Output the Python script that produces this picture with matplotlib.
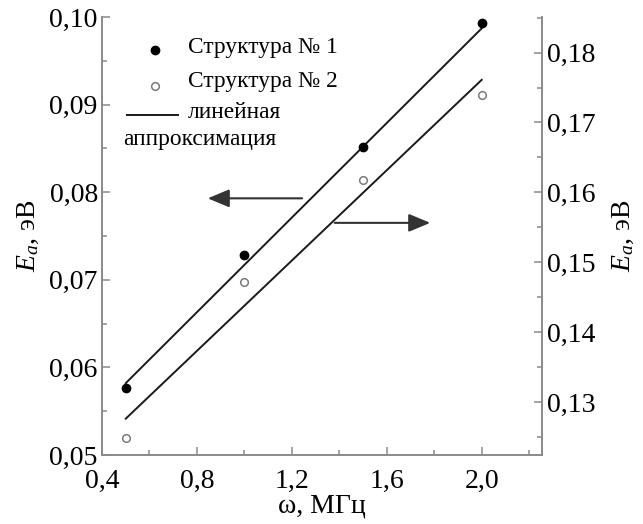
import numpy as np
import matplotlib
matplotlib.use('Agg')
import matplotlib.pyplot as plt
from matplotlib.ticker import MultipleLocator, FuncFormatter

plt.rcParams['font.family'] = ['Liberation Serif', 'DejaVu Serif']
plt.rcParams['mathtext.fontset'] = 'custom'
plt.rcParams['mathtext.rm'] = 'Liberation Serif'
plt.rcParams['mathtext.it'] = 'Liberation Serif:italic'

### data
freq = [0.5, 1.0, 1.5, 2.0]                 # omega, MHz
ea_struct1 = [0.0577, 0.0728, 0.0852, 0.0993]  # left axis, eV
ea_struct2 = [0.1248, 0.1472, 0.1618, 0.1740]  # right axis, eV

fit_x = [0.5, 2.0]
fit_struct1 = [0.0582, 0.0987]
fit_struct2 = [0.1276, 0.1761]

label_s1 = 'Структура № 1'
label_s2 = 'Структура № 2'
label_fit1 = 'линейная'
label_fit2 = 'аппроксимация'

spine_col = '#8a8a8a'

fig = plt.figure(figsize=(6.43, 5.24), dpi=100)
ax = fig.add_axes([102/643, (524-455)/524, 439.7/643, 438/524])
ax2 = ax.twinx()

ax.plot(fit_x, fit_struct1, color='#1a1a1a', lw=1.4)
ax.plot(freq, ea_struct1, 'o', color='black', ms=6)
ax2.plot(fit_x, fit_struct2, color='#1a1a1a', lw=1.4)
ax2.plot(freq, ea_struct2, 'o', mfc='white', mec='#7a7a7a', mew=1.1, ms=5.5)

ax.set_xlim(0.4, 2.253)
ax.set_ylim(0.05, 0.10)
ax2.set_ylim(0.1224, 0.1851)

comma = lambda fmt: FuncFormatter(lambda v, p: fmt.format(v).replace('.', ','))
ax.xaxis.set_major_locator(MultipleLocator(0.4))
ax.xaxis.set_minor_locator(MultipleLocator(0.2))
ax.xaxis.set_major_formatter(comma('{:.1f}'))
ax.yaxis.set_major_locator(MultipleLocator(0.01))
ax.yaxis.set_minor_locator(MultipleLocator(0.005))
ax.yaxis.set_major_formatter(comma('{:.2f}'))
ax2.set_yticks([0.13, 0.14, 0.15, 0.16, 0.17, 0.18])
ax2.yaxis.set_minor_locator(MultipleLocator(0.005))
ax2.yaxis.set_major_formatter(comma('{:.2f}'))

for a in (ax, ax2):
    a.spines['top'].set_visible(False)
    for s in a.spines.values():
        s.set_color(spine_col)
        s.set_linewidth(1.2)
    a.tick_params(which='both', direction='in', color=spine_col, labelsize=20)
    a.tick_params(which='major', length=6, width=1.1)
    a.tick_params(which='minor', length=3.5, width=1.1)
ax.tick_params(axis='y', pad=3)
ax.tick_params(axis='x', pad=10)
ax2.tick_params(axis='y', pad=4)

ax.set_xlabel('ω, МГц', fontsize=20, labelpad=0)
ax.set_ylabel('$E_a$, эВ', fontsize=20, labelpad=6)
ax2.set_ylabel('$E_a$, эВ', fontsize=20, labelpad=11)

# arrows showing which axis each line belongs to
ax.annotate('', xy=(0.834, 0.0793), xytext=(1.255, 0.0793),
            arrowprops=dict(arrowstyle='-|>,head_length=0.6,head_width=0.25',
                            color='#333333', lw=1.5, mutation_scale=22))
ax.annotate('', xy=(1.795, 0.0765), xytext=(1.369, 0.0765),
            arrowprops=dict(arrowstyle='-|>,head_length=0.6,head_width=0.25',
                            color='#333333', lw=1.5, mutation_scale=22))

# hand-made legend
ax.plot([0.1205], [0.9247], 'o', color='black', ms=6, transform=ax.transAxes, clip_on=False)
ax.text(0.1956, 0.9315, label_s1, fontsize=16.8, va='center', transform=ax.transAxes)
ax.plot([0.1205], [0.8425], 'o', mfc='white', mec='#7a7a7a', mew=1.1, ms=5.5,
        transform=ax.transAxes, clip_on=False)
ax.text(0.1956, 0.8516, label_s2, fontsize=16.8, va='center', transform=ax.transAxes)
ax.plot([0.057, 0.173], [0.7763, 0.7763], color='#1a1a1a', lw=1.4, transform=ax.transAxes)
ax.text(0.1956, 0.783, label_fit1, fontsize=16.8, va='center', transform=ax.transAxes)
ax.text(0.048, 0.7192, label_fit2, fontsize=16.8, va='center', transform=ax.transAxes)

plt.savefig('out.png', dpi=100)
